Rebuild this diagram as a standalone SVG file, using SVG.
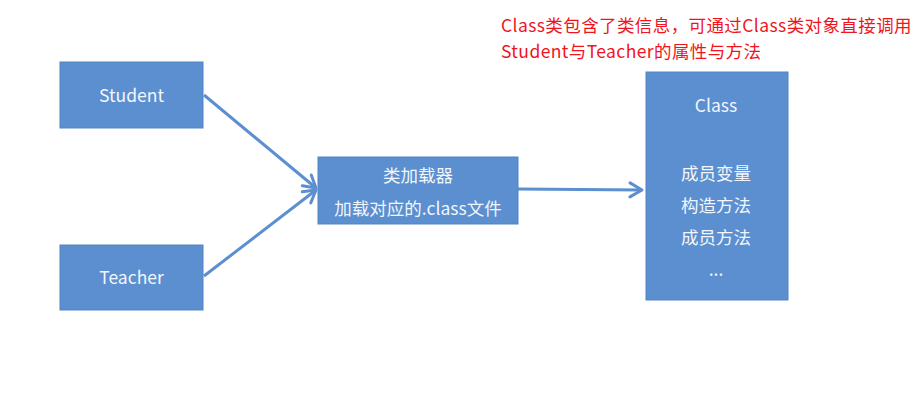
<svg xmlns="http://www.w3.org/2000/svg" width="922" height="405" viewBox="0 0 922 405">
<defs>
<style>
.box{fill:#5b8fd0;stroke:#5283c4;stroke-width:1}
.t{font-family:"Noto Sans CJK SC","Noto Sans",sans-serif;fill:#f2f6fc;font-size:17.5px;text-anchor:middle}
.note{font-family:"Noto Sans CJK SC","Noto Sans",sans-serif;fill:#f0141e;font-size:17.5px;letter-spacing:0.4px}
.c{stroke:#5b8fd0;stroke-width:3;fill:none;marker-end:url(#ah)}
</style>
<marker id="ah" markerUnits="userSpaceOnUse" markerWidth="20" markerHeight="20" refX="14" refY="8" orient="auto" viewBox="0 0 20 16">
<path d="M2,1 L14,8 L2,15" fill="none" stroke="#5b8fd0" stroke-width="3" stroke-linecap="round" stroke-linejoin="round"/>
</marker>
</defs>
<rect width="922" height="405" fill="#ffffff"/>
<g id="connectors">
<line class="c" x1="204" y1="95" x2="316" y2="188"/>
<line class="c" x1="204" y1="276" x2="316" y2="190"/>
<line class="c" x1="518" y1="189" x2="642" y2="190"/>
</g>
<g id="student">
<rect class="box" x="60" y="62" width="143" height="66"/>
<text class="t" x="131.5" y="102">Student</text>
</g>
<g id="teacher">
<rect class="box" x="60" y="245" width="143" height="65"/>
<text class="t" x="131.5" y="284">Teacher</text>
</g>
<g id="classloader">
<rect class="box" x="318" y="157" width="200" height="67"/>
<text class="t" x="418" y="182">类加载器</text>
<text class="t" x="418" y="215">加载对应的.class文件</text>
</g>
<g id="class">
<rect class="box" x="646" y="72" width="142" height="228"/>
<text class="t" x="716" y="112">Class</text>
<text class="t" x="716" y="180">成员变量</text>
<text class="t" x="716" y="212">构造方法</text>
<text class="t" x="716" y="244">成员方法</text>
<text class="t" x="716" y="276">...</text>
</g>
<g id="note">
<text class="note" x="501" y="32">Class类包含了类信息，可通过Class类对象直接调用</text>
<text class="note" x="501" y="58">Student与Teacher的属性与方法</text>
</g>
</svg>
